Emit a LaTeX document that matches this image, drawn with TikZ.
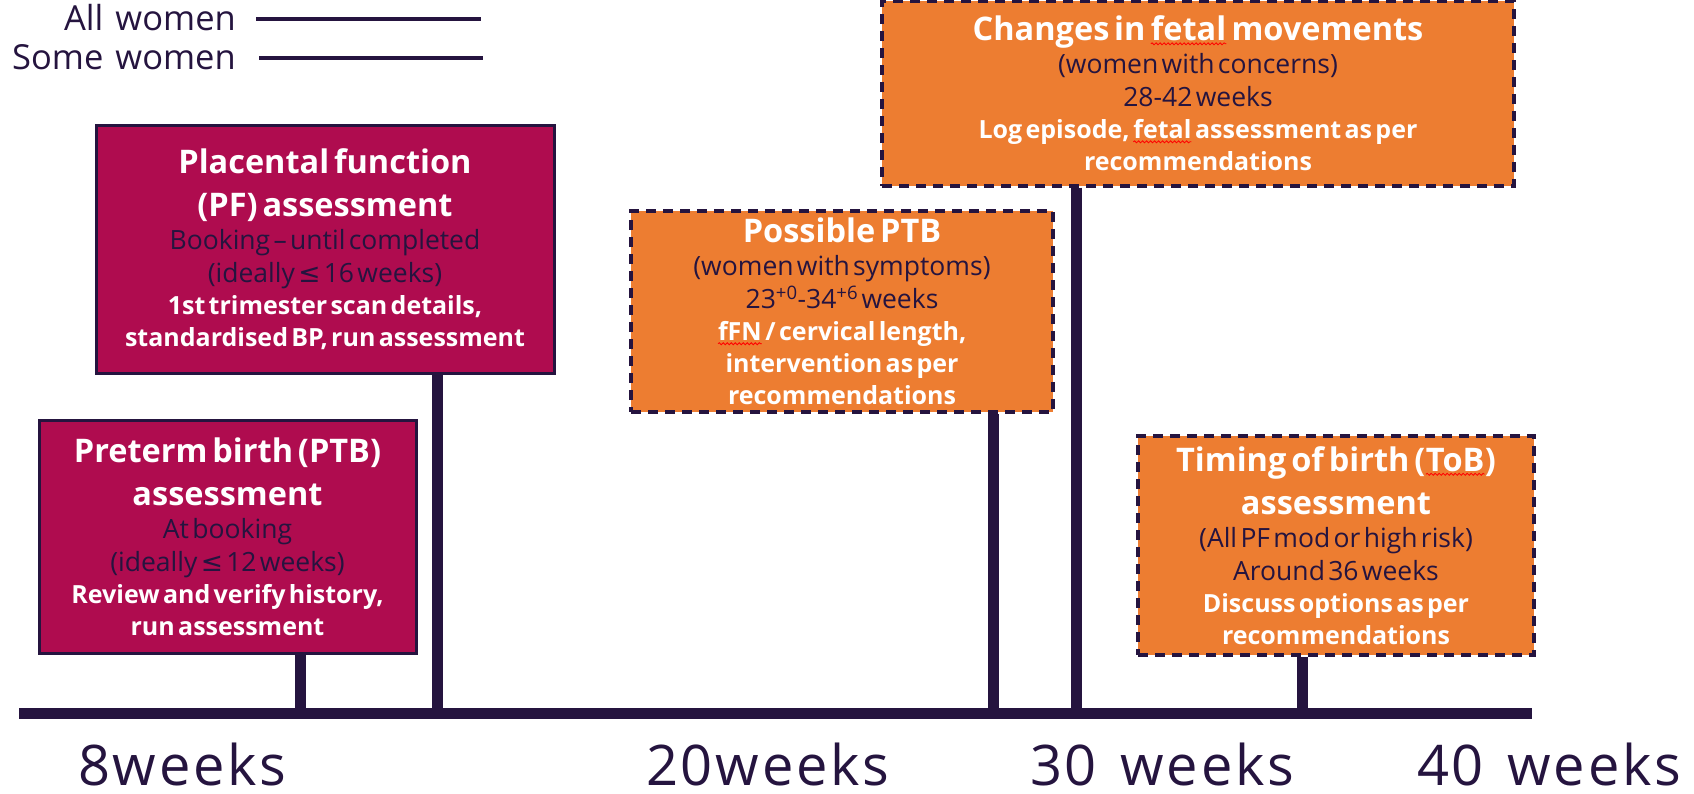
\documentclass[tikz,border=0pt]{standalone}
\usepackage{fontspec}
\setmainfont[WordSpace=1.35]{Open Sans}
\newfontfamily\symfont{DejaVu Sans}
\usetikzlibrary{positioning,decorations.pathmorphing}

\definecolor{tlnavy}{HTML}{25143F}
\definecolor{tlmaroon}{HTML}{AF0C4F}
\definecolor{tlorange}{HTML}{ED7D31}

\newcommand{\spellmark}[1]{\tikz[baseline=(sw.base)]{\node[inner sep=0pt,outer sep=0pt,minimum width=0pt,minimum height=0pt,text width=,draw=none,fill=none] (sw) {#1};
	\draw[red,solid,line width=0.8pt,decorate,decoration={snake,amplitude=1pt,segment length=4pt}] ([yshift=-3pt]sw.base west) -- ([yshift=-3pt]sw.base east);}}
\newcommand{\boxtitle}[1]{{\fontsize{32.5}{43}\selectfont\bfseries\spaceskip=0.15em\relax\color{white}#1\par}}
\newcommand{\boxwhen}[1]{{\fontsize{26.5}{33}\selectfont\color{tlnavy}#1\par}}
\newcommand{\boxwhat}[1]{{\fontsize{25}{32}\selectfont\bfseries\color{white}#1\par}}

\begin{document}
\begin{tikzpicture}[x=1pt,y=1pt]
	\tikzstyle{every node}=[inner sep=0pt]
	\tikzstyle{allbox}=[draw=tlnavy,fill=tlmaroon,line width=3pt,align=center]
	\tikzstyle{somebox}=[draw=tlnavy,fill=tlorange,line width=3.5pt,dash pattern=on 10pt off 7pt,align=center]
	\tikzstyle{stem}=[draw=tlnavy,line width=11pt]
	\tikzstyle{keyline}=[draw=tlnavy,line width=4pt]
	\tikzstyle{legend}=[text=tlnavy,font=\fontsize{34.5}{34.5}\selectfont,anchor=base east]
	\tikzstyle{weeks}=[text=tlnavy,font=\fontsize{56}{56}\selectfont\addfontfeature{LetterSpace=5},anchor=base west]

	\useasboundingbox (0,0) rectangle (1694,-794);

	% legend
	\node[legend] (all) at (236,-31) {All women};
	\node[legend] (some) at (236,-70) {Some women};
	\coordinate (allkey) at (481,-19.5);
	\coordinate (somekey) at (483,-58);
	\draw[keyline] (all.east |- allkey) ++(20,0) -- (allkey);
	\draw[keyline] (some.east |- somekey) ++(23,0) -- (somekey);

	% timeline
	\coordinate (tstart) at (19,-713);
	\coordinate (tend) at (1532,-713);
	\coordinate (ptbx) at (300,-713);
	\coordinate (pfx) at (437,-713);
	\coordinate (possx) at (993,-713);
	\coordinate (fmx) at (1076,-713);
	\coordinate (tobx) at (1302,-713);

	\node[allbox,minimum width=458pt,minimum height=247pt,text width=450pt] (pf) at (325,-249.5)
		{\boxtitle{Placental function\\(PF) assessment}%
		 \boxwhen{Booking -- until completed\\(ideally {\symfont ≤} 16 weeks)}%
		 \boxwhat{1st trimester scan details,\\standardised BP, run assessment}};
	\node[allbox,minimum width=377pt,minimum height=233pt,text width=370pt] (ptb) at (227.5,-536.5)
		{\boxtitle{Preterm birth (PTB)\\assessment}%
		 \boxwhen{At booking\\(ideally {\symfont ≤} 12 weeks)}%
		 \boxwhat{Review and verify history,\\run assessment}};
	\node[somebox,minimum width=422pt,minimum height=201pt,text width=415pt] (poss) at (842,-311.5)
		{\boxtitle{Possible PTB}%
		 \boxwhen{(women with symptoms)\\23\textsuperscript{+0}-34\textsuperscript{+6} weeks}%
		 \boxwhat{\spellmark{fFN} / cervical length,\\intervention as per\\recommendations}};
	\node[somebox,minimum width=632pt,minimum height=185pt,text width=625pt] (fm) at (1198,-93.5)
		{\boxtitle{Changes in \spellmark{fetal} movements}%
		 \boxwhen{(women with concerns)\\28-42 weeks}%
		 \boxwhat{Log episode, \spellmark{fetal} assessment as per\\recommendations}};
	\node[somebox,minimum width=396pt,minimum height=219pt,text width=390pt] (tob) at (1336,-545.5)
		{\boxtitle{Timing of birth (\spellmark{ToB})\\assessment}%
		 \boxwhen{(All PF mod or high risk)\\Around 36 weeks}%
		 \boxwhat{Discuss options as per\\recommendations}};

	\draw[stem] (tstart) -- (tend);
	\draw[stem] (ptb.south -| ptbx) -- (ptbx);
	\draw[stem] (pf.south -| pfx) -- (pfx);
	\draw[stem] (poss.south -| possx) -- (possx);
	\draw[stem] (fm.south -| fmx) -- (fmx);
	\draw[stem] (tob.south -| tobx) -- (tobx);

	\node[weeks] (w8) at (78,-785) {8weeks};
	\node[weeks] (w20) at (646,-785) {20weeks};
	\node[weeks] (w30) at (1030,-785) {30 weeks};
	\node[weeks] (w40) at (1417,-785) {40 weeks};
\end{tikzpicture}
\end{document}
